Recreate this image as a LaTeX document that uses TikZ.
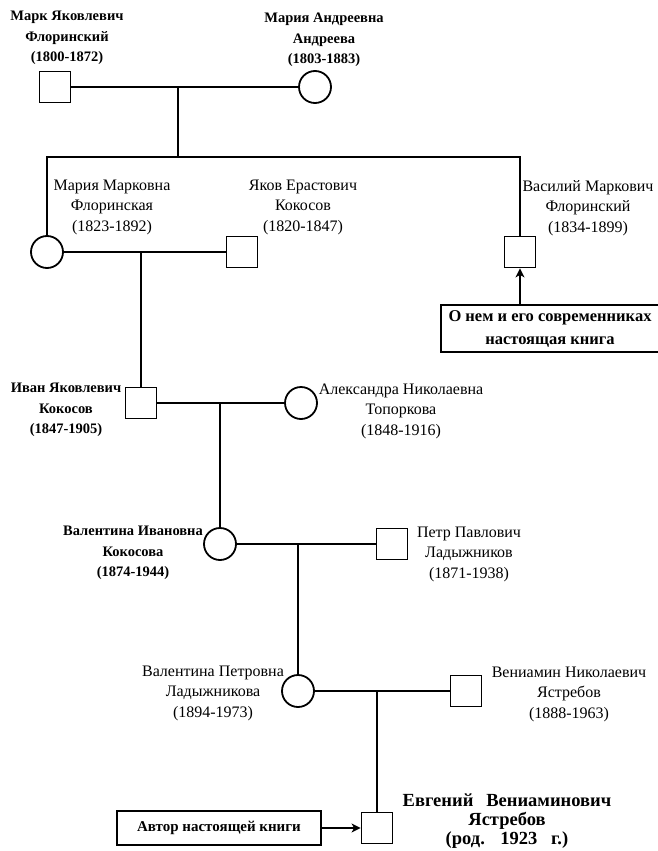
\documentclass[tikz,border=0pt]{standalone}
\usepackage{fontspec}
\setmainfont{Liberation Serif}
\usetikzlibrary{arrows.meta}
\usetikzlibrary{calc}
\usetikzlibrary{positioning}

\begin{document}
\begin{tikzpicture}[x=1pt,y=-1pt]
  \tikzset{>={Stealth[length=9pt,width=9pt,inset=2.5pt]}}
  \tikzstyle{male}=[draw,line width=1.8pt,minimum size=31pt,inner sep=0pt]
  \tikzstyle{female}=[draw,circle,line width=1.8pt,minimum size=32pt,inner sep=0pt]
  \tikzstyle{bond}=[line width=1.8pt]
  \tikzstyle{who}=[align=center,inner sep=0pt,font=\fontsize{16}{20.5}\selectfont]
  \tikzstyle{whobf}=[align=center,inner sep=0pt,font=\bfseries\fontsize{14.5}{20.5}\selectfont]
  \tikzstyle{note}=[draw,line width=1.8pt,align=center,inner sep=0pt,font=\bfseries\fontsize{16.5}{23}\selectfont]

  % PAGE
  \useasboundingbox (0,0) rectangle (657,851);

  % FIRST GENERATION
  \node[male] (mark) at (55,87) {};
  \node[female] (mariaA) at (315,87) {};
  \node[whobf] (markL) at (67,38) {Марк Яковлевич\\Флоринский\\(1800-1872)};
  \node[whobf] (mariaAL) at (324,40) {Мария Андреевна\\Андреева\\(1803-1883)};
  \coordinate (j1) at (178,87);
  \coordinate (bar) at (178,157);

  % SECOND GENERATION
  \node[female] (mariaM) at (47,252) {};
  \node[male] (yakov) at (242,252) {};
  \node[male] (vasily) at (520,252) {};
  \node[who] (mariaML) at (112,207) {Мария Марковна\\Флоринская\\(1823-1892)};
  \node[who] (yakovL) at (303,207) {Яков Ерастович\\Кокосов\\(1820-1847)};
  \node[who] (vasilyL) at (588,208) {Василий Маркович\\Флоринский\\(1834-1899)};
  \node[note,minimum width=218pt,minimum height=47pt] (book) at (550,328.5)
    {О нем и его современниках\\настоящая книга};
  \coordinate (j2) at (141,252);

  % THIRD GENERATION
  \node[male] (ivan) at (141,403) {};
  \node[female] (alexandra) at (301,403) {};
  \node[whobf] (ivanL) at (66,410) {Иван Яковлевич\\Кокосов\\(1847-1905)};
  \node[who] (alexandraL) at (401,411) {Александра Николаевна\\Топоркова\\(1848-1916)};
  \coordinate (j3) at (220,403);

  % FOURTH GENERATION
  \node[female] (valI) at (220,544) {};
  \node[male] (petr) at (392,544) {};
  \node[whobf] (valIL) at (133,553) {Валентина Ивановна\\Кокосова\\(1874-1944)};
  \node[who] (petrL) at (469,554) {Петр Павлович\\Ладыжников\\(1871-1938)};
  \coordinate (j4) at (298,544);

  % FIFTH GENERATION
  \node[female] (valP) at (298,691) {};
  \node[male] (veniamin) at (466,691) {};
  \node[who] (valPL) at (213,693) {Валентина Петровна\\Ладыжникова\\(1894-1973)};
  \node[who] (veniaminL) at (569,694) {Вениамин Николаевич\\Ястребов\\(1888-1963)};
  \coordinate (j5) at (377,691);

  % AUTHOR
  \node[male] (evgeny) at (377,828) {};
  \node[align=center,inner sep=0pt,font=\bfseries\fontsize{18.5}{19}\selectfont] (evgenyL) at (507,821)
    {Евгений\hspace{0.45em} Вениаминович\\Ястребов\\(род.\hspace{0.5em} 1923\hspace{0.5em} г.)};
  \node[note,minimum width=204pt,minimum height=34pt,font=\bfseries\fontsize{15}{18}\selectfont] (author) at (219,828)
    {Автор настоящей книги};

  % LINKS
  \draw[bond] (mark) -- (mariaA);
  \draw[bond] (j1) -- (bar);
  \draw[bond] (mariaM.north) |- (vasily.north |- bar) -- (vasily.north);
  \draw[bond] (mariaM) -- (yakov);
  \draw[bond] (j2) -- (ivan.north);
  \draw[bond] (ivan) -- (alexandra);
  \draw[bond] (j3) -- (valI.north);
  \draw[bond] (valI) -- (petr);
  \draw[bond] (j4) -- (valP.north);
  \draw[bond] (valP) -- (veniamin);
  \draw[bond] (j5) -- (evgeny.north);
  \draw[bond,->] (book.north -| vasily) -- (vasily.south);
  \draw[bond,->] (author) -- (evgeny);
\end{tikzpicture}
\end{document}
